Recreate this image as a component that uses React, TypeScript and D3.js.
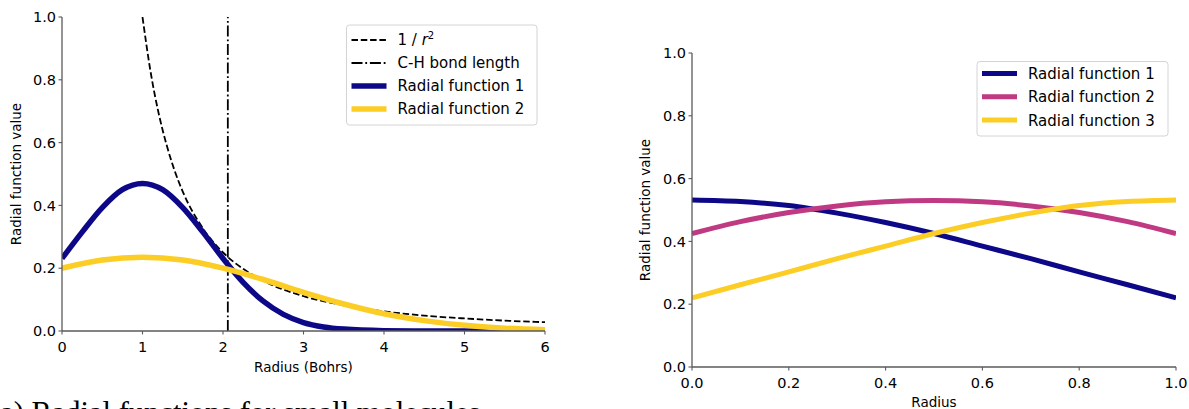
import React from 'react';
import * as d3 from 'd3';

// left panel: radius in Bohrs
const invSqR = [1, 1.1, 1.2, 1.3, 1.4, 1.5, 1.75, 2, 2.25, 2.5, 3, 3.5, 4, 4.5, 5, 5.5, 6];
const invSqV = [1.0, 0.826, 0.694, 0.592, 0.51, 0.444, 0.327, 0.25, 0.198, 0.16, 0.111, 0.082, 0.0625, 0.049, 0.04, 0.033, 0.028];

const leftR1 = [0, 0.25, 0.5, 0.75, 1, 1.25, 1.5, 1.75, 2, 2.25, 2.5, 2.75, 3, 3.25, 3.5, 4, 4.5, 5, 6];
const leftV1 = [0.231, 0.315, 0.393, 0.45, 0.47, 0.45, 0.393, 0.315, 0.231, 0.155, 0.095, 0.053, 0.027, 0.013, 0.006, 0.001, 0, 0, 0];

const leftR2 = [0, 0.5, 1, 1.5, 2, 2.5, 3, 3.5, 4, 4.5, 5, 5.5, 6];
const leftV2 = [0.2, 0.226, 0.235, 0.226, 0.2, 0.164, 0.123, 0.086, 0.055, 0.033, 0.018, 0.009, 0.004];

const bondLength = 2.06;

// right panel: normalised radius
const rightR = [0, 0.1, 0.2, 0.3, 0.4, 0.5, 0.6, 0.7, 0.8, 0.9, 1.0];
const rightV1 = [0.532, 0.527, 0.514, 0.49, 0.46, 0.425, 0.385, 0.345, 0.303, 0.262, 0.22];
const rightV2 = [0.425, 0.463, 0.492, 0.513, 0.526, 0.53, 0.526, 0.513, 0.492, 0.463, 0.425];
const rightV3 = [0.22, 0.262, 0.303, 0.345, 0.385, 0.425, 0.46, 0.49, 0.514, 0.527, 0.532];

const leftXTicks = [0, 1, 2, 3, 4, 5, 6];
const yTicks = [0, 0.2, 0.4, 0.6, 0.8, 1.0];
const rightXTicks = [0, 0.2, 0.4, 0.6, 0.8, 1.0];

const NAVY = '#0d0887';
const PINK = '#c03a83';
const YELLOW = '#fccd25';
const SPINE = '#5a5a5a';
const FONT = 'DejaVu Sans, sans-serif';
const DASH = '6.5,2.8';
const DASHDOT = '11,2.8,1.8,2.8';

const pts = (xs: number[], ys: number[]) => xs.map((x, i) => [x, ys[i]] as [number, number]);

type AxesProps = {
  x: d3.ScaleLinear<number, number>;
  y: d3.ScaleLinear<number, number>;
  xTicks: number[];
  xFmt: (v: number) => string;
  xLabel: string;
  xLabelY: number;
  yLabelX: number;
};

const Axes = ({ x, y, xTicks, xFmt, xLabel, xLabelY, yLabelX }: AxesProps) => {
  const [x0, x1] = x.range();
  const [y0, y1] = y.range();
  const fmt = d3.format('.1f');
  return (
    <g fontFamily={FONT} fontSize={14.5} fill="#000">
      <line x1={x0} x2={x1} y1={y0} y2={y0} stroke={SPINE} strokeWidth={1.3} />
      <line x1={x0} x2={x0} y1={y0} y2={y1} stroke={SPINE} strokeWidth={1.3} />
      {xTicks.map(t => (
        <g key={'x' + t}>
          <line x1={x(t)} x2={x(t)} y1={y0} y2={y0 + 3.5} stroke={SPINE} strokeWidth={1.1} />
          <text x={x(t)} y={y0 + 20.5} textAnchor="middle">{xFmt(t)}</text>
        </g>
      ))}
      {yTicks.map(t => (
        <g key={'y' + t}>
          <line x1={x0 - 3.5} x2={x0} y1={y(t)} y2={y(t)} stroke={SPINE} strokeWidth={1.1} />
          <text x={x0 - 6} y={y(t)} dy="0.36em" textAnchor="end">{fmt(t)}</text>
        </g>
      ))}
      <text x={(x0 + x1) / 2} y={xLabelY} textAnchor="middle" fontSize={13.5}>{xLabel}</text>
      <text transform={`translate(${yLabelX},${(y0 + y1) / 2}) rotate(-90)`} textAnchor="middle" fontSize={13.5} dy="0.35em">
        Radial function value
      </text>
    </g>
  );
};

type LegendItem = { label: React.ReactNode; color: string; width: number; dash?: string };

const Legend = ({ x, y, w, h, items, rowGap, firstRow }: { x: number; y: number; w: number; h: number; items: LegendItem[]; rowGap: number; firstRow: number }) => (
  <g fontFamily={FONT} fontSize={15}>
    <rect x={x} y={y} width={w} height={h} rx={3} fill="#fff" fillOpacity={0.8} stroke="#d4d4d4" strokeWidth={1} />
    {items.map((it, i) => {
      const cy = y + firstRow + i * rowGap;
      return (
        <g key={i}>
          <line x1={x + 5} x2={x + 40} y1={cy} y2={cy} stroke={it.color} strokeWidth={it.width} strokeDasharray={it.dash} />
          <text x={x + 51} y={cy} dy="0.36em">{it.label}</text>
        </g>
      );
    })}
  </g>
);

export default function App() {
  const W = 1189;
  const H = 409;

  const xL = d3.scaleLinear().domain([0, 6]).range([62, 545]);
  const yL = d3.scaleLinear().domain([0, 1]).range([331, 17]);
  const xR = d3.scaleLinear().domain([0, 1]).range([692, 1176]);
  const yR = d3.scaleLinear().domain([0, 1]).range([367, 53]);

  const lineL = d3.line<[number, number]>().x(d => xL(d[0])).y(d => yL(d[1])).curve(d3.curveMonotoneX);
  const lineR = d3.line<[number, number]>().x(d => xR(d[0])).y(d => yR(d[1])).curve(d3.curveMonotoneX);

  return (
    <svg width={W} height={H} style={{ position: 'absolute', left: 0, top: 0, background: '#fff' }}>
      <defs>
        <clipPath id="clipL">
          <rect x={62} y={17} width={483} height={314} />
        </clipPath>
        <clipPath id="clipR">
          <rect x={692} y={53} width={484} height={314} />
        </clipPath>
      </defs>

      {/* left panel */}
      <g clipPath="url(#clipL)" fill="none">
        <path d={lineL(pts(invSqR, invSqV)) || ''} stroke="#000" strokeWidth={1.8} strokeDasharray={DASH} />
        <line x1={xL(bondLength)} x2={xL(bondLength)} y1={yL(0)} y2={yL(1)} stroke="#000" strokeWidth={1.8} strokeDasharray={DASHDOT} />
        <path d={lineL(pts(leftR1, leftV1)) || ''} stroke={NAVY} strokeWidth={5.5} />
        <path d={lineL(pts(leftR2, leftV2)) || ''} stroke={YELLOW} strokeWidth={5.5} />
      </g>
      <Axes x={xL} y={yL} xTicks={leftXTicks} xFmt={d3.format('d')} xLabel="Radius (Bohrs)" xLabelY={372} yLabelX={16} />
      <Legend
        x={346.5} y={25} w={190.5} h={100} rowGap={23} firstRow={15}
        items={[
          { label: <>1 / <tspan fontStyle="italic">r</tspan><tspan fontSize={10} dy="-6">2</tspan></>, color: '#000', width: 1.8, dash: DASH },
          { label: 'C-H bond length', color: '#000', width: 1.8, dash: DASHDOT },
          { label: 'Radial function 1', color: NAVY, width: 5.5 },
          { label: 'Radial function 2', color: YELLOW, width: 5.5 },
        ]}
      />

      {/* right panel */}
      <g clipPath="url(#clipR)" fill="none">
        <path d={lineR(pts(rightR, rightV1)) || ''} stroke={NAVY} strokeWidth={5} />
        <path d={lineR(pts(rightR, rightV2)) || ''} stroke={PINK} strokeWidth={5} />
        <path d={lineR(pts(rightR, rightV3)) || ''} stroke={YELLOW} strokeWidth={5} />
      </g>
      <Axes x={xR} y={yR} xTicks={rightXTicks} xFmt={d3.format('.1f')} xLabel="Radius" xLabelY={407} yLabelX={645} />
      <Legend
        x={977} y={61.5} w={191} h={74.5} rowGap={23.3} firstRow={12}
        items={[
          { label: 'Radial function 1', color: NAVY, width: 5 },
          { label: 'Radial function 2', color: PINK, width: 5 },
          { label: 'Radial function 3', color: YELLOW, width: 5 },
        ]}
      />

      {/* caption, cut off by the bottom and left edges as in the source */}
      <text x={-10} y={423} fontFamily="Liberation Serif, serif" fontSize={30.5}>(a) Radial functions for small molecules</text>
    </svg>
  );
}
